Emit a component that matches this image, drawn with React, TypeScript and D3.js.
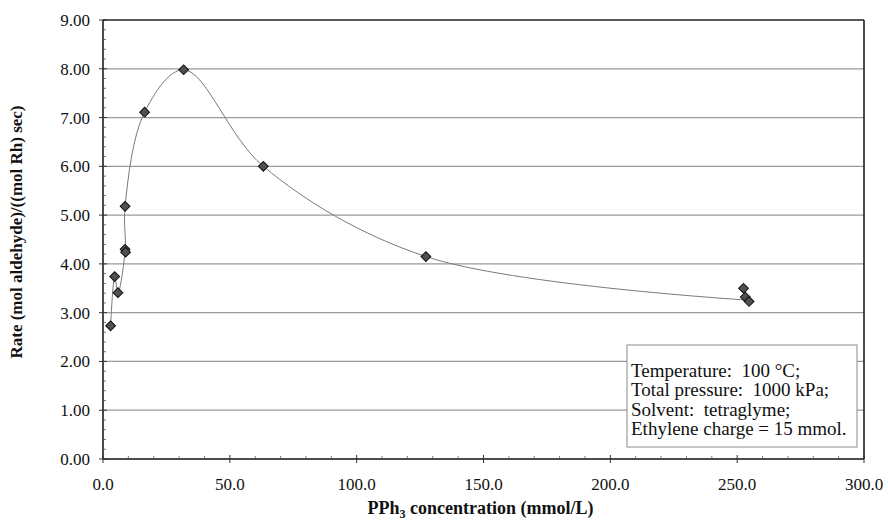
import React from "react";
import * as d3 from "d3";

// Measured data (PPh3 concentration in mmol/L, rate)
const concentration = [3.0, 4.6, 5.9, 8.7, 8.7, 8.9, 16.4, 31.8, 63.2, 127.3, 252.5, 253.2, 254.7];
const rate = [2.73, 3.74, 3.41, 5.18, 4.3, 4.24, 7.11, 7.98, 6.0, 4.15, 3.5, 3.32, 3.23];

// Smoothed trend line nodes
const curveConc = [3.0, 4.6, 5.9, 8.7, 8.7, 16.4, 31.8, 63.2, 127.3, 253.5];
const curveRate = [2.73, 3.74, 3.41, 4.27, 5.18, 7.11, 7.98, 6.0, 4.15, 3.26];

const xTicks = [0, 50, 100, 150, 200, 250, 300];
const yTicks = [0, 1, 2, 3, 4, 5, 6, 7, 8, 9];

const legendLines = [
  "Temperature:  100 \u00B0C;",
  "Total pressure:  1000 kPa;",
  "Solvent:  tetraglyme;",
  "Ethylene charge = 15 mmol.",
];

const W = 888;
const H = 528;
const M = { left: 103, right: 864, top: 20, bottom: 459 };
const FONT = "'Liberation Serif', 'Times New Roman', serif";

export default function App() {
  const x = d3.scaleLinear().domain([0, 300]).range([M.left, M.right]);
  const y = d3.scaleLinear().domain([0, 9]).range([M.bottom, M.top]);

  const line = d3
    .line<number>()
    .x((_, i) => x(curveConc[i]))
    .y((_, i) => y(curveRate[i]))
    .curve(d3.curveCatmullRom.alpha(0.5));
  const linePath = line(curveConc) || "";

  const xMinor = d3.range(0, 301, 10).filter((v) => v % 50 !== 0);
  const yMinor = d3.range(0, 9.001, 0.2).filter((v) => Math.abs(v - Math.round(v)) > 0.01);

  const diamond = d3.symbol().type(d3.symbolSquare).size(48)() || "";

  return (
    <svg
      width={W}
      height={H}
      style={{ position: "fixed", left: 0, top: 0, background: "#fff" }}
      fontFamily={FONT}
    >
      <rect x={0} y={0} width={W} height={H} fill="#fff" />
      {/* gridlines */}
      {yTicks.slice(1, -1).map((t) => (
        <line key={"g" + t} x1={M.left} x2={M.right} y1={y(t)} y2={y(t)} stroke="#9a9a9a" strokeWidth={1.3} />
      ))}
      {/* frame top & right */}
      <line x1={M.left} x2={M.right} y1={M.top} y2={M.top} stroke="#222" strokeWidth={1.3} />
      <line x1={M.right} x2={M.right} y1={M.top} y2={M.bottom} stroke="#111" strokeWidth={1.5} />
      {/* axes */}
      <line x1={M.left} x2={M.left} y1={M.top} y2={M.bottom} stroke="#111" strokeWidth={1.5} />
      <line x1={M.left} x2={M.right} y1={M.bottom} y2={M.bottom} stroke="#111" strokeWidth={1.6} />
      {/* y ticks */}
      {yTicks.map((t) => (
        <line key={"yt" + t} x1={M.left - 4} x2={M.left + 4} y1={y(t)} y2={y(t)} stroke="#333" strokeWidth={1} />
      ))}
      {yMinor.map((t) => (
        <line key={"ym" + t} x1={M.left} x2={M.left + 3} y1={y(t)} y2={y(t)} stroke="#555" strokeWidth={0.8} />
      ))}
      {/* x ticks */}
      {xTicks.map((t) => (
        <line key={"xt" + t} x1={x(t)} x2={x(t)} y1={M.bottom - 4} y2={M.bottom + 4} stroke="#333" strokeWidth={1} />
      ))}
      {xMinor.map((t) => (
        <line key={"xm" + t} x1={x(t)} x2={x(t)} y1={M.bottom - 3} y2={M.bottom} stroke="#555" strokeWidth={0.8} />
      ))}
      {/* y tick labels */}
      {yTicks.map((t) => (
        <text key={"yl" + t} x={M.left - 13} y={y(t)} dy="0.35em" textAnchor="end" fontSize={17} fill="#111">
          {t.toFixed(2)}
        </text>
      ))}
      {/* x tick labels */}
      {xTicks.map((t) => (
        <text key={"xl" + t} x={x(t)} y={490} textAnchor="middle" fontSize={17} fill="#111">
          {t.toFixed(1)}
        </text>
      ))}
      {/* curve */}
      <path d={linePath} fill="none" stroke="#7a7a7a" strokeWidth={1} />
      {/* markers */}
      {concentration.map((c, i) => (
        <path
          key={"p" + i}
          d={diamond}
          transform={`translate(${x(c)},${y(rate[i])}) rotate(45)`}
          fill="#505050"
          stroke="#111"
          strokeWidth={1}
        />
      ))}
      {/* legend box */}
      <rect x={627} y={345} width={230} height={102} fill="#fff" stroke="#8a8a8a" strokeWidth={1} />
      {legendLines.map((s, i) => (
        <text
          key={"lg" + i}
          x={631}
          y={377 + i * 19.3}
          fontSize={19}
          fill="#111"
          style={{ whiteSpace: "pre" }}
        >
          {s}
        </text>
      ))}
      {/* axis titles */}
      <text x={(M.left + M.right) / 2 - 3} y={514} textAnchor="middle" fontSize={18} fontWeight="bold" fill="#111">
        PPh
        <tspan fontSize={12} dy={4}>3</tspan>
        <tspan dy={-4}> concentration (mmol/L)</tspan>
      </text>
      <text
        transform={`translate(22,232) rotate(-90)`}
        textAnchor="middle"
        fontSize={17}
        fontWeight="bold"
        fill="#111"
      >
        Rate (mol aldehyde)/((mol Rh) sec)
      </text>
    </svg>
  );
}
